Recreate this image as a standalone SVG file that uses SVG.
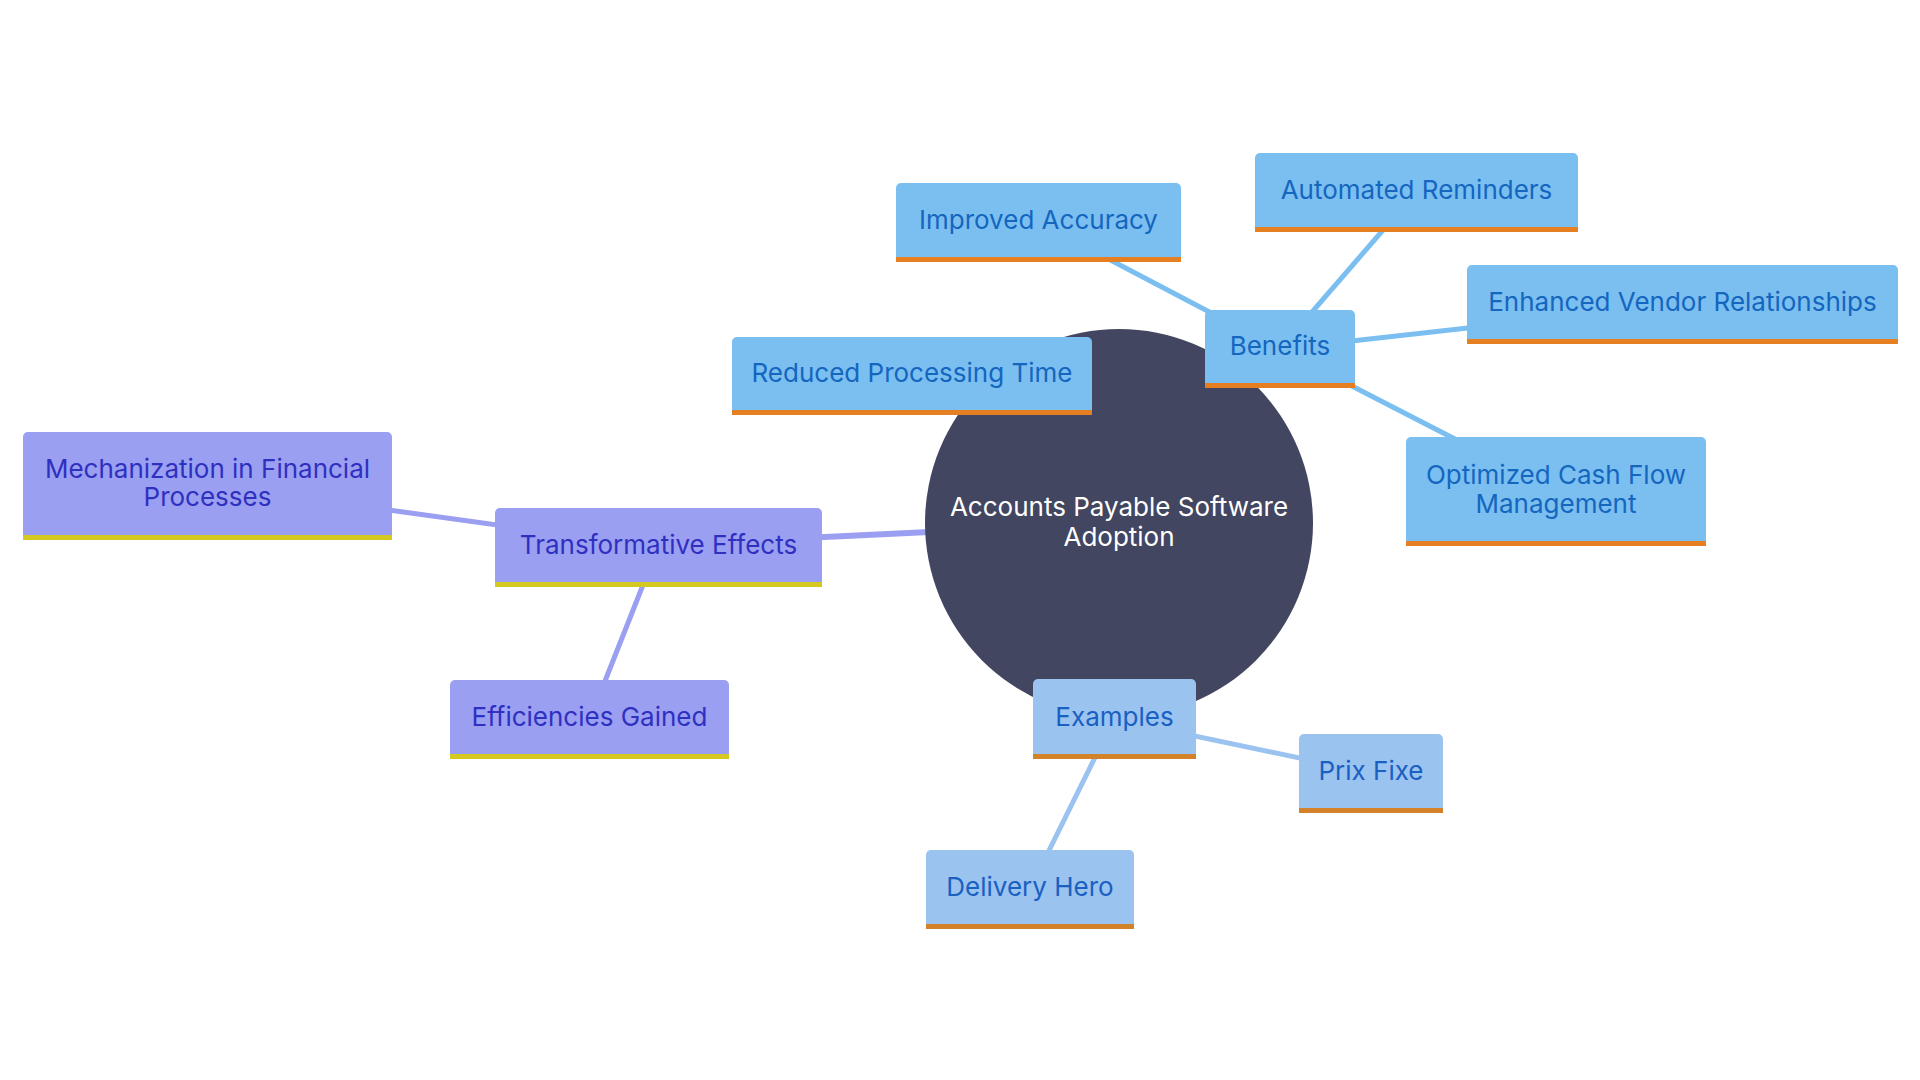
<svg xmlns="http://www.w3.org/2000/svg" width="1920" height="1080" viewBox="0 0 1920 1080">
<style>
  text { font-family: Inter, "Open Sans", "Liberation Sans", sans-serif; font-size: 26px; text-anchor: middle; dominant-baseline: central; }
  .b path.f { fill: #7bbff1; }
  .b rect.bar { fill: #e67e22; }
  .b text { fill: #1466bf; }
  .e path.f { fill: #9bc3ef; }
  .e rect.bar { fill: #d4822a; }
  .e text { fill: #1a60c2; }
  .t path.f { fill: #9a9ff2; }
  .t rect.bar { fill: #d5c820; }
  .t text { fill: #2f30c0; }
  .eb { stroke: #7bbff1; }
  .ee { stroke: #9bc3ef; }
  .et { stroke: #9a9ff2; }
  #edges line { stroke-linecap: round; }
  .l1 { stroke-width: 6; }
  .l2 { stroke-width: 5; }
</style>
<rect width="1920" height="1080" fill="#ffffff"/>
<g id="edges">
  <line class="eb l1" x1="1119" y1="523" x2="1280" y2="349"/>
  <line class="ee l1" x1="1119" y1="523" x2="1114" y2="719"/>
  <line class="et l1" x1="1119" y1="523" x2="658" y2="545"/>
  <line class="eb l2" x1="1280" y1="349" x2="912" y2="376"/>
  <line class="eb l2" x1="1280" y1="349" x2="1038" y2="222"/>
  <line class="eb l2" x1="1280" y1="349" x2="1416" y2="192"/>
  <line class="eb l2" x1="1280" y1="349" x2="1682" y2="304"/>
  <line class="eb l2" x1="1280" y1="349" x2="1556" y2="491"/>
  <line class="ee l2" x1="1114" y1="719" x2="1371" y2="773"/>
  <line class="ee l2" x1="1114" y1="719" x2="1030" y2="889"/>
  <line class="et l2" x1="658" y1="547" x2="207" y2="485"/>
  <line class="et l2" x1="658" y1="547" x2="590" y2="719"/>
</g>
<g id="root">
  <circle cx="1119" cy="523" r="194" fill="#424660"/>
  <text x="1119" y="506" fill="#ffffff">Accounts Payable Software</text>
  <text x="1119" y="536" fill="#ffffff">Adoption</text>
</g>
<g id="benefits" class="b">
  <path class="f" d="M1205,388 V315 a5,5 0 0 1 5,-5 H1350 a5,5 0 0 1 5,5 V388 Z"/>
  <rect class="bar" x="1205" y="383" width="150" height="5"/>
  <text x="1280" y="345">Benefits</text>
</g>
<g id="reduced-processing-time" class="b">
  <path class="f" d="M732,415 V342 a5,5 0 0 1 5,-5 H1087 a5,5 0 0 1 5,5 V415 Z"/>
  <rect class="bar" x="732" y="410" width="360" height="5"/>
  <text x="912" y="372">Reduced Processing Time</text>
</g>
<g id="improved-accuracy" class="b">
  <path class="f" d="M896,262 V188 a5,5 0 0 1 5,-5 H1176 a5,5 0 0 1 5,5 V262 Z"/>
  <rect class="bar" x="896" y="257" width="285" height="5"/>
  <text x="1038.5" y="219">Improved Accuracy</text>
</g>
<g id="automated-reminders" class="b">
  <path class="f" d="M1255,232 V158 a5,5 0 0 1 5,-5 H1573 a5,5 0 0 1 5,5 V232 Z"/>
  <rect class="bar" x="1255" y="227" width="323" height="5"/>
  <text x="1416.5" y="189">Automated Reminders</text>
</g>
<g id="enhanced-vendor-relationships" class="b">
  <path class="f" d="M1467,344 V270 a5,5 0 0 1 5,-5 H1893 a5,5 0 0 1 5,5 V344 Z"/>
  <rect class="bar" x="1467" y="339" width="431" height="5"/>
  <text x="1682.5" y="301">Enhanced Vendor Relationships</text>
</g>
<g id="optimized-cash-flow-management" class="b">
  <path class="f" d="M1406,546 V442 a5,5 0 0 1 5,-5 H1701 a5,5 0 0 1 5,5 V546 Z"/>
  <rect class="bar" x="1406" y="541" width="300" height="5"/>
  <text x="1556" y="474">Optimized Cash Flow</text>
  <text x="1556" y="503">Management</text>
</g>
<g id="transformative-effects" class="t">
  <path class="f" d="M495,587 V513 a5,5 0 0 1 5,-5 H817 a5,5 0 0 1 5,5 V587 Z"/>
  <rect class="bar" x="495" y="582" width="327" height="5"/>
  <text x="658.5" y="544">Transformative Effects</text>
</g>
<g id="mechanization" class="t">
  <path class="f" d="M23,540 V437 a5,5 0 0 1 5,-5 H387 a5,5 0 0 1 5,5 V540 Z"/>
  <rect class="bar" x="23" y="535" width="369" height="5"/>
  <text x="207.5" y="468">Mechanization in Financial</text>
  <text x="207.5" y="496">Processes</text>
</g>
<g id="efficiencies-gained" class="t">
  <path class="f" d="M450,759 V685 a5,5 0 0 1 5,-5 H724 a5,5 0 0 1 5,5 V759 Z"/>
  <rect class="bar" x="450" y="754" width="279" height="5"/>
  <text x="589.5" y="716">Efficiencies Gained</text>
</g>
<g id="examples" class="e">
  <path class="f" d="M1033,759 V684 a5,5 0 0 1 5,-5 H1191 a5,5 0 0 1 5,5 V759 Z"/>
  <rect class="bar" x="1033" y="754" width="163" height="5"/>
  <text x="1114.5" y="716">Examples</text>
</g>
<g id="prix-fixe" class="e">
  <path class="f" d="M1299,813 V739 a5,5 0 0 1 5,-5 H1438 a5,5 0 0 1 5,5 V813 Z"/>
  <rect class="bar" x="1299" y="808" width="144" height="5"/>
  <text x="1371" y="770">Prix Fixe</text>
</g>
<g id="delivery-hero" class="e">
  <path class="f" d="M926,929 V855 a5,5 0 0 1 5,-5 H1129 a5,5 0 0 1 5,5 V929 Z"/>
  <rect class="bar" x="926" y="924" width="208" height="5"/>
  <text x="1030" y="886">Delivery Hero</text>
</g>
</svg>
